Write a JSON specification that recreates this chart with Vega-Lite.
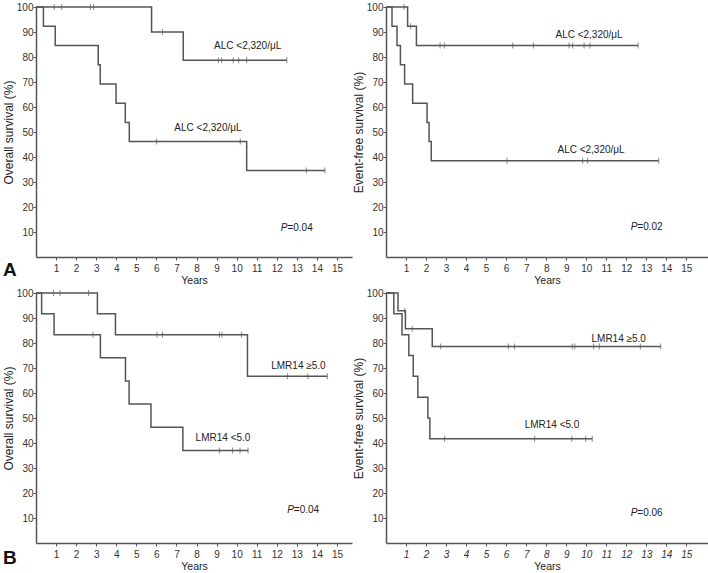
{
  "$schema": "https://vega.github.io/schema/vega-lite/v6.json",
  "background": "white",
  "padding": {"left": 2, "top": 2, "right": 0, "bottom": 0},
  "autosize": {"type": "pad"},
  "config": {
    "view": {"stroke": null},
    "font": "'Liberation Sans', Arial, sans-serif",
    "axis": {
      "grid": false,
      "domainColor": "#555",
      "domainWidth": 1.5,
      "tickColor": "#555",
      "labelColor": "#333",
      "labelFontSize": 10,
      "titleFontWeight": "normal",
      "titleColor": "#222"
    },
    "axisX": {"tickSize": 3, "labelPadding": 3, "titlePadding": 2, "titleFontSize": 10.5},
    "axisY": {"tickSize": 3, "labelPadding": 0, "titlePadding": 1, "titleFontSize": 12}
  },
  "datasets": {
    "steps": [
      {"p": "A", "g": "hi", "t": 0, "s": 100}, {"p": "A", "g": "hi", "t": 5.76, "s": 90}, {"p": "A", "g": "hi", "t": 7.34, "s": 78.75}, {"p": "A", "g": "hi", "t": 12.5, "s": 78.75},
      {"p": "A", "g": "lo", "t": 0, "s": 100}, {"p": "A", "g": "lo", "t": 0.37, "s": 92.3}, {"p": "A", "g": "lo", "t": 0.96, "s": 84.6}, {"p": "A", "g": "lo", "t": 3.1, "s": 76.9}, {"p": "A", "g": "lo", "t": 3.2, "s": 69.2}, {"p": "A", "g": "lo", "t": 3.99, "s": 61.5}, {"p": "A", "g": "lo", "t": 4.45, "s": 53.8}, {"p": "A", "g": "lo", "t": 4.65, "s": 46.2}, {"p": "A", "g": "lo", "t": 10.5, "s": 34.6}, {"p": "A", "g": "lo", "t": 14.4, "s": 34.6},
      {"p": "B", "g": "hi", "t": 0, "s": 100}, {"p": "B", "g": "hi", "t": 1.08, "s": 92.3}, {"p": "B", "g": "hi", "t": 1.52, "s": 84.6}, {"p": "B", "g": "hi", "t": 12.59, "s": 84.6},
      {"p": "B", "g": "lo", "t": 0, "s": 100}, {"p": "B", "g": "lo", "t": 0.3, "s": 92.3}, {"p": "B", "g": "lo", "t": 0.55, "s": 84.6}, {"p": "B", "g": "lo", "t": 0.72, "s": 76.9}, {"p": "B", "g": "lo", "t": 0.93, "s": 69.2}, {"p": "B", "g": "lo", "t": 1.33, "s": 61.5}, {"p": "B", "g": "lo", "t": 2.05, "s": 53.8}, {"p": "B", "g": "lo", "t": 2.15, "s": 46.2}, {"p": "B", "g": "lo", "t": 2.26, "s": 38.5}, {"p": "B", "g": "lo", "t": 13.62, "s": 38.5},
      {"p": "C", "g": "hi", "t": 0, "s": 100}, {"p": "C", "g": "hi", "t": 3.06, "s": 91.7}, {"p": "C", "g": "hi", "t": 3.96, "s": 83.3}, {"p": "C", "g": "hi", "t": 10.54, "s": 66.7}, {"p": "C", "g": "hi", "t": 14.52, "s": 66.7},
      {"p": "C", "g": "lo", "t": 0, "s": 100}, {"p": "C", "g": "lo", "t": 0.28, "s": 91.7}, {"p": "C", "g": "lo", "t": 0.9, "s": 83.3}, {"p": "C", "g": "lo", "t": 3.21, "s": 74.1}, {"p": "C", "g": "lo", "t": 4.46, "s": 64.8}, {"p": "C", "g": "lo", "t": 4.64, "s": 55.6}, {"p": "C", "g": "lo", "t": 5.73, "s": 46.3}, {"p": "C", "g": "lo", "t": 7.32, "s": 37.0}, {"p": "C", "g": "lo", "t": 10.57, "s": 37.0},
      {"p": "D", "g": "hi", "t": 0, "s": 100}, {"p": "D", "g": "hi", "t": 0.6, "s": 92.9}, {"p": "D", "g": "hi", "t": 0.97, "s": 85.7}, {"p": "D", "g": "hi", "t": 2.31, "s": 78.6}, {"p": "D", "g": "hi", "t": 13.72, "s": 78.6},
      {"p": "D", "g": "lo", "t": 0, "s": 100}, {"p": "D", "g": "lo", "t": 0.39, "s": 91.7}, {"p": "D", "g": "lo", "t": 0.8, "s": 83.3}, {"p": "D", "g": "lo", "t": 1.14, "s": 75}, {"p": "D", "g": "lo", "t": 1.36, "s": 66.7}, {"p": "D", "g": "lo", "t": 1.59, "s": 58.3}, {"p": "D", "g": "lo", "t": 2.09, "s": 50}, {"p": "D", "g": "lo", "t": 2.19, "s": 41.7}, {"p": "D", "g": "lo", "t": 10.3, "s": 41.7}
    ],
    "cens": [
      {"p": "A", "t": 0.91, "s": 100}, {"p": "A", "t": 1.28, "s": 100}, {"p": "A", "t": 2.71, "s": 100}, {"p": "A", "t": 2.87, "s": 100}, {"p": "A", "t": 6.3, "s": 90}, {"p": "A", "t": 9.09, "s": 78.75}, {"p": "A", "t": 9.25, "s": 78.75}, {"p": "A", "t": 9.83, "s": 78.75}, {"p": "A", "t": 10.1, "s": 78.75}, {"p": "A", "t": 10.5, "s": 78.75}, {"p": "A", "t": 12.5, "s": 78.75},
      {"p": "A", "t": 6.01, "s": 46.2}, {"p": "A", "t": 10.18, "s": 46.2}, {"p": "A", "t": 13.47, "s": 34.6}, {"p": "A", "t": 14.4, "s": 34.6},
      {"p": "B", "t": 0.9, "s": 100}, {"p": "B", "t": 1.23, "s": 92.3}, {"p": "B", "t": 2.7, "s": 84.6}, {"p": "B", "t": 2.91, "s": 84.6}, {"p": "B", "t": 6.33, "s": 84.6}, {"p": "B", "t": 7.36, "s": 84.6}, {"p": "B", "t": 9.14, "s": 84.6}, {"p": "B", "t": 9.32, "s": 84.6}, {"p": "B", "t": 9.89, "s": 84.6}, {"p": "B", "t": 10.19, "s": 84.6}, {"p": "B", "t": 12.59, "s": 84.6},
      {"p": "B", "t": 6.04, "s": 38.5}, {"p": "B", "t": 9.82, "s": 38.5}, {"p": "B", "t": 10.07, "s": 38.5}, {"p": "B", "t": 13.62, "s": 38.5},
      {"p": "C", "t": 0.87, "s": 100}, {"p": "C", "t": 1.2, "s": 100}, {"p": "C", "t": 2.62, "s": 100}, {"p": "C", "t": 6.03, "s": 83.3}, {"p": "C", "t": 6.3, "s": 83.3}, {"p": "C", "t": 9.14, "s": 83.3}, {"p": "C", "t": 9.27, "s": 83.3}, {"p": "C", "t": 10.24, "s": 83.3}, {"p": "C", "t": 12.53, "s": 66.7}, {"p": "C", "t": 13.55, "s": 66.7}, {"p": "C", "t": 14.52, "s": 66.7},
      {"p": "C", "t": 2.84, "s": 83.3}, {"p": "C", "t": 9.14, "s": 37.0}, {"p": "C", "t": 9.8, "s": 37.0}, {"p": "C", "t": 10.17, "s": 37.0}, {"p": "C", "t": 10.57, "s": 37.0},
      {"p": "D", "t": 0.94, "s": 92.9}, {"p": "D", "t": 1.31, "s": 85.7}, {"p": "D", "t": 2.73, "s": 78.6}, {"p": "D", "t": 6.11, "s": 78.6}, {"p": "D", "t": 6.42, "s": 78.6}, {"p": "D", "t": 9.3, "s": 78.6}, {"p": "D", "t": 9.43, "s": 78.6}, {"p": "D", "t": 10.37, "s": 78.6}, {"p": "D", "t": 10.65, "s": 78.6}, {"p": "D", "t": 12.7, "s": 78.6}, {"p": "D", "t": 13.72, "s": 78.6},
      {"p": "D", "t": 2.93, "s": 41.7}, {"p": "D", "t": 7.42, "s": 41.7}, {"p": "D", "t": 9.28, "s": 41.7}, {"p": "D", "t": 9.97, "s": 41.7}, {"p": "D", "t": 10.3, "s": 41.7}
    ],
    "labels": [
      {"p": "A", "t": 10.55, "s": 84.4, "text": "ALC <2,320/μL"}, {"p": "A", "t": 8.57, "s": 51.7, "text": "ALC <2,320/μL"},
      {"p": "B", "t": 10.14, "s": 88.9, "text": "ALC <2,320/μL"}, {"p": "B", "t": 10.24, "s": 42.9, "text": "ALC <2,320/μL"},
      {"p": "C", "t": 13.08, "s": 70.9, "text": "LMR14 ≥5.0"}, {"p": "C", "t": 9.32, "s": 42.1, "text": "LMR14 <5.0"},
      {"p": "D", "t": 11.62, "s": 81.6, "text": "LMR14 ≥5.0"}, {"p": "D", "t": 8.29, "s": 47.1, "text": "LMR14 <5.0"}
    ],
    "pv": [
      {"p": "A", "t": 12.53, "s": 11.7, "v": "=0.04"},
      {"p": "B", "t": 12.55, "s": 11.9, "v": "=0.02"},
      {"p": "C", "t": 12.85, "s": 13.4, "v": "=0.04"},
      {"p": "D", "t": 12.55, "s": 12.2, "v": "=0.06"}
    ],
    "letters": [
      {"p": "A", "t": -1.3, "s": -5.2, "text": "A"},
      {"p": "C", "t": -1.3, "s": -5.8, "text": "B"}
    ]
  },
  "columns": 2,
  "bounds": "flush",
  "spacing": {"row": 36, "column": 34},
  "concat": [
    {
      "width": 316, "height": 250,
      "encoding": {
        "x": {"field": "t", "type": "quantitative", "scale": {"domain": [0, 15.75], "nice": false, "zero": false}, "axis": {"values": [1,2,3,4,5,6,7,8,9,10,11,12,13,14,15], "title": "Years"}},
        "y": {"field": "s", "type": "quantitative", "scale": {"domain": [0, 100], "nice": false}, "axis": {"values": [10,20,30,40,50,60,70,80,90,100], "title": "Overall survival (%)"}}
      },
      "layer": [
        {"data": {"name": "steps"}, "transform": [{"filter": "datum.p == 'A'"}], "mark": {"type": "line", "interpolate": "step-after", "color": "#555", "strokeWidth": 1.5}, "encoding": {"detail": {"field": "g"}}},
        {"data": {"name": "cens"}, "transform": [{"filter": "datum.p == 'A'"}], "mark": {"type": "tick", "orient": "vertical", "size": 6, "thickness": 1, "color": "#555"}},
        {"data": {"name": "labels"}, "transform": [{"filter": "datum.p == 'A'"}], "mark": {"type": "text", "fontSize": 10, "color": "#222"}, "encoding": {"text": {"field": "text"}}},
        {"data": {"name": "pv"}, "transform": [{"filter": "datum.p == 'A'"}], "mark": {"type": "text", "fontSize": 10, "fontStyle": "italic", "align": "right", "color": "#222", "text": "P"}},
        {"data": {"name": "pv"}, "transform": [{"filter": "datum.p == 'A'"}], "mark": {"type": "text", "fontSize": 10, "align": "left", "color": "#222"}, "encoding": {"text": {"field": "v"}}},
        {"data": {"name": "letters"}, "transform": [{"filter": "datum.p == 'A'"}], "mark": {"type": "text", "fontSize": 19, "fontWeight": "bold", "color": "#111"}, "encoding": {"text": {"field": "text"}}}
      ]
    },
    {
      "width": 322, "height": 250,
      "encoding": {
        "x": {"field": "t", "type": "quantitative", "scale": {"domain": [0, 16.08], "nice": false, "zero": false}, "axis": {"values": [1,2,3,4,5,6,7,8,9,10,11,12,13,14,15], "title": "Years"}},
        "y": {"field": "s", "type": "quantitative", "scale": {"domain": [0, 100], "nice": false}, "axis": {"values": [10,20,30,40,50,60,70,80,90,100], "title": "Event-free survival (%)"}}
      },
      "layer": [
        {"data": {"name": "steps"}, "transform": [{"filter": "datum.p == 'B'"}], "mark": {"type": "line", "interpolate": "step-after", "color": "#555", "strokeWidth": 1.5}, "encoding": {"detail": {"field": "g"}}},
        {"data": {"name": "cens"}, "transform": [{"filter": "datum.p == 'B'"}], "mark": {"type": "tick", "orient": "vertical", "size": 6, "thickness": 1, "color": "#555"}},
        {"data": {"name": "labels"}, "transform": [{"filter": "datum.p == 'B'"}], "mark": {"type": "text", "fontSize": 10, "color": "#222"}, "encoding": {"text": {"field": "text"}}},
        {"data": {"name": "pv"}, "transform": [{"filter": "datum.p == 'B'"}], "mark": {"type": "text", "fontSize": 10, "fontStyle": "italic", "align": "right", "color": "#222", "text": "P"}},
        {"data": {"name": "pv"}, "transform": [{"filter": "datum.p == 'B'"}], "mark": {"type": "text", "fontSize": 10, "align": "left", "color": "#222"}, "encoding": {"text": {"field": "v"}}}
      ]
    },
    {
      "width": 316, "height": 250,
      "encoding": {
        "x": {"field": "t", "type": "quantitative", "scale": {"domain": [0, 15.75], "nice": false, "zero": false}, "axis": {"values": [1,2,3,4,5,6,7,8,9,10,11,12,13,14,15], "title": "Years"}},
        "y": {"field": "s", "type": "quantitative", "scale": {"domain": [0, 100], "nice": false}, "axis": {"values": [10,20,30,40,50,60,70,80,90,100], "title": "Overall survival (%)"}}
      },
      "layer": [
        {"data": {"name": "steps"}, "transform": [{"filter": "datum.p == 'C'"}], "mark": {"type": "line", "interpolate": "step-after", "color": "#555", "strokeWidth": 1.5}, "encoding": {"detail": {"field": "g"}}},
        {"data": {"name": "cens"}, "transform": [{"filter": "datum.p == 'C'"}], "mark": {"type": "tick", "orient": "vertical", "size": 6, "thickness": 1, "color": "#555"}},
        {"data": {"name": "labels"}, "transform": [{"filter": "datum.p == 'C'"}], "mark": {"type": "text", "fontSize": 10, "color": "#222"}, "encoding": {"text": {"field": "text"}}},
        {"data": {"name": "pv"}, "transform": [{"filter": "datum.p == 'C'"}], "mark": {"type": "text", "fontSize": 10, "fontStyle": "italic", "align": "right", "color": "#222", "text": "P"}},
        {"data": {"name": "pv"}, "transform": [{"filter": "datum.p == 'C'"}], "mark": {"type": "text", "fontSize": 10, "align": "left", "color": "#222"}, "encoding": {"text": {"field": "v"}}},
        {"data": {"name": "letters"}, "transform": [{"filter": "datum.p == 'C'"}], "mark": {"type": "text", "fontSize": 19, "fontWeight": "bold", "color": "#111"}, "encoding": {"text": {"field": "text"}}}
      ]
    },
    {
      "width": 322, "height": 250,
      "encoding": {
        "x": {"field": "t", "type": "quantitative", "scale": {"domain": [0, 16.08], "nice": false, "zero": false}, "axis": {"values": [1,2,3,4,5,6,7,8,9,10,11,12,13,14,15], "title": "Years", "labelFontStyle": "italic"}},
        "y": {"field": "s", "type": "quantitative", "scale": {"domain": [0, 100], "nice": false}, "axis": {"values": [10,20,30,40,50,60,70,80,90,100], "title": "Event-free survival (%)"}}
      },
      "layer": [
        {"data": {"name": "steps"}, "transform": [{"filter": "datum.p == 'D'"}], "mark": {"type": "line", "interpolate": "step-after", "color": "#555", "strokeWidth": 1.5}, "encoding": {"detail": {"field": "g"}}},
        {"data": {"name": "cens"}, "transform": [{"filter": "datum.p == 'D'"}], "mark": {"type": "tick", "orient": "vertical", "size": 6, "thickness": 1, "color": "#555"}},
        {"data": {"name": "labels"}, "transform": [{"filter": "datum.p == 'D'"}], "mark": {"type": "text", "fontSize": 10, "color": "#222"}, "encoding": {"text": {"field": "text"}}},
        {"data": {"name": "pv"}, "transform": [{"filter": "datum.p == 'D'"}], "mark": {"type": "text", "fontSize": 10, "fontStyle": "italic", "align": "right", "color": "#222", "text": "P"}},
        {"data": {"name": "pv"}, "transform": [{"filter": "datum.p == 'D'"}], "mark": {"type": "text", "fontSize": 10, "align": "left", "color": "#222"}, "encoding": {"text": {"field": "v"}}}
      ]
    }
  ]
}
